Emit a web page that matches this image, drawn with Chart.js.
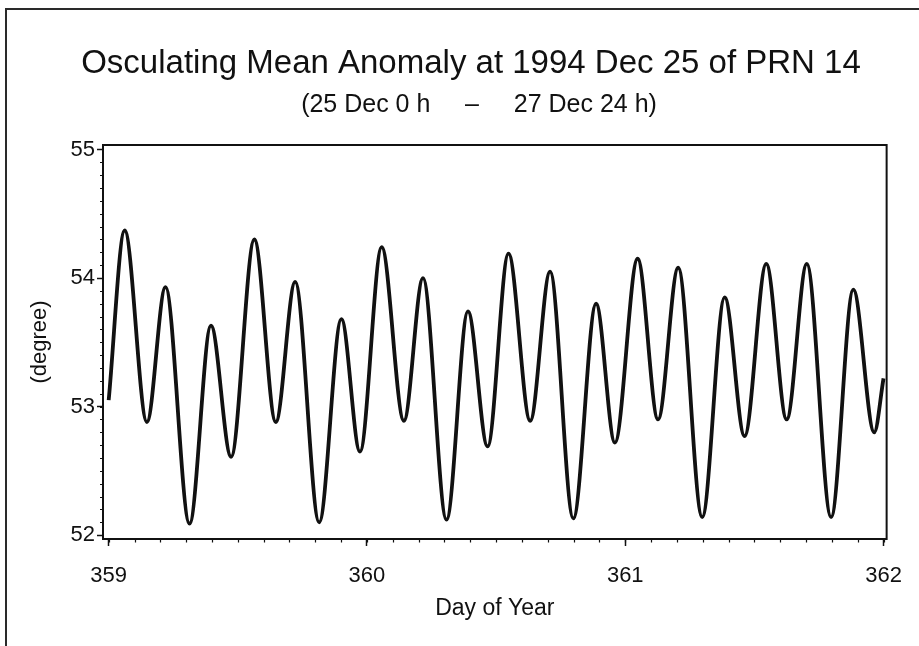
<!DOCTYPE html>
<html>
<head>
<meta charset="utf-8">
<script src="https://cdn.jsdelivr.net/npm/chart.js@4.4.1/dist/chart.umd.min.js"></script>
<style>
  html, body { margin: 0; padding: 0; background: #ffffff; }
  #wrap { width: 919px; height: 646px; position: relative; }
</style>
</head>
<body>
<div id="wrap"><canvas id="chart" width="919" height="646"></canvas></div>
<script>
// Osculating mean anomaly of PRN 14, 25 Dec 0 h to 27 Dec 24 h (day of year 359-362).
// Turning points of the curve plus its start and end samples.
const dayOfYear = [
  359.000, 359.062, 359.148, 359.220, 359.313, 359.396, 359.474, 359.564,
  359.647, 359.722, 359.815, 359.901, 359.973, 360.057, 360.143, 360.217,
  360.308, 360.391, 360.467, 360.548, 360.632, 360.709, 360.799, 360.887,
  360.960, 361.048, 361.127, 361.205, 361.298, 361.385, 361.462, 361.546,
  361.625, 361.703, 361.797, 361.883, 361.964, 362.000
];
const meanAnomaly = [
  53.05, 54.37, 52.88, 53.93, 52.09, 53.63, 52.61, 54.30,
  52.88, 53.97, 52.10, 53.68, 52.65, 54.24, 52.89, 54.00,
  52.12, 53.74, 52.69, 54.19, 52.89, 54.05, 52.13, 53.80,
  52.72, 54.15, 52.90, 54.08, 52.14, 53.85, 52.77, 54.11,
  52.90, 54.11, 52.14, 53.91, 52.80, 53.22
];
const xTicks = [359, 360, 361, 362];
const yTicks = [52, 53, 54, 55];
const minorStep = 0.1;

const FONT = "'Liberation Sans', Arial, Helvetica, sans-serif";
const INK = '#111111';
const TITLE = 'Osculating Mean Anomaly at 1994 Dec 25 of PRN 14';
const SUBTITLE = '(25 Dec 0 h     \u2013     27 Dec 24 h)';

// Short minor ticks between the labelled ones, on both axes.
const minorTicks = {
  id: 'minorTicks',
  afterDraw(chart) {
    const { ctx, chartArea, scales } = chart;
    ctx.save();
    ctx.strokeStyle = INK;
    ctx.lineWidth = 1.2;
    ctx.beginPath();
    const xs = scales.x, ys = scales.y;
    const nx = Math.round((xTicks[xTicks.length - 1] - xTicks[0]) / minorStep);
    for (let k = 0; k <= nx; k++) {
      const v = xTicks[0] + k * minorStep;
      const px = Math.round(xs.getPixelForValue(v)) + 0.5;
      ctx.moveTo(px, chartArea.bottom);
      ctx.lineTo(px, chartArea.bottom + 3.5);
    }
    const ny = Math.round((yTicks[yTicks.length - 1] - yTicks[0]) / minorStep);
    for (let k = 0; k <= ny; k++) {
      const v = yTicks[0] + k * minorStep;
      const py = Math.round(ys.getPixelForValue(v)) + 0.5;
      ctx.moveTo(chartArea.left - 3, py);
      ctx.lineTo(chartArea.left, py);
    }
    ctx.stroke();
    ctx.restore();
  }
};

// Plot frame and the page border lines.
const frames = {
  id: 'frames',
  beforeDraw(chart) {
    const { ctx, width, height } = chart;
    ctx.save();
    ctx.fillStyle = '#ffffff';
    ctx.fillRect(0, 0, width, height);
    ctx.strokeStyle = '#2a2a2a';
    ctx.lineWidth = 2;
    ctx.beginPath();
    ctx.moveTo(6, height);
    ctx.lineTo(6, 9);
    ctx.lineTo(width, 9);
    ctx.stroke();
    ctx.restore();
  },
  afterDatasetsDraw(chart) {
    const { ctx, chartArea } = chart;
    ctx.save();
    ctx.strokeStyle = INK;
    ctx.lineWidth = 2;
    ctx.strokeRect(chartArea.left, chartArea.top, chartArea.right - chartArea.left, chartArea.bottom - chartArea.top);
    ctx.restore();
  }
};

// Centre the heading lines over the whole page rather than over the plot column.
const headingCentre = {
  id: 'headingCentre',
  afterLayout(chart) {
    const heads = chart.boxes.filter(b => !b.axis && b.options && b.options.text !== undefined);
    heads.forEach(b => {
      const centre = b.options.text === TITLE ? 471 : 479;
      b.left = centre - 460;
      b.right = centre + 460;
    });
  }
};

new Chart(document.getElementById('chart'), {
  type: 'line',
  data: {
    datasets: [{
      data: dayOfYear.map((d, i) => ({ x: d, y: meanAnomaly[i] })),
      borderColor: INK,
      borderWidth: 3.8,
      pointRadius: 0,
      fill: false,
      cubicInterpolationMode: 'monotone'
    }]
  },
  options: {
    responsive: false,
    animation: false,
    devicePixelRatio: 1,
    layout: { padding: { left: 0, right: 30, top: 0, bottom: 0 } },
    plugins: {
      legend: { display: false },
      tooltip: { enabled: false },
      title: {
        display: true,
        text: TITLE,
        color: INK,
        font: { family: FONT, size: 33, weight: 'normal' },
        padding: { top: 44, bottom: 3 }
      },
      subtitle: {
        display: true,
        text: SUBTITLE,
        color: INK,
        font: { family: FONT, size: 25, weight: 'normal' },
        padding: { top: 4, bottom: 24.4 }
      }
    },
    scales: {
      x: {
        type: 'linear',
        min: 358.978,
        max: 362.012,
        afterBuildTicks: s => { s.ticks = xTicks.map(v => ({ value: v })); },
        afterFit: s => { s.height = 107; },
        ticks: {
          color: INK,
          font: { family: FONT, size: 22 },
          padding: 17,
          maxRotation: 0,
          autoSkip: false,
          callback: v => String(v)
        },
        grid: { display: true, drawOnChartArea: false, drawTicks: true, tickLength: 7, tickColor: INK, tickWidth: 1.5 },
        border: { display: false },
        title: {
          display: true,
          text: 'Day of Year',
          color: INK,
          font: { family: FONT, size: 23 },
          padding: { top: 0, bottom: 24 }
        }
      },
      y: {
        type: 'linear',
        min: 51.97,
        max: 55.035,
        afterBuildTicks: s => { s.ticks = yTicks.map(v => ({ value: v })); },
        afterFit: s => { s.width = 103; },
        ticks: {
          color: INK,
          font: { family: FONT, size: 22 },
          padding: 2,
          autoSkip: false,
          callback: v => String(v)
        },
        grid: { display: true, drawOnChartArea: false, drawTicks: true, tickLength: 6, tickColor: INK, tickWidth: 1.5 },
        border: { display: false },
        title: {
          display: true,
          text: '(degree)',
          color: INK,
          font: { family: FONT, size: 22 },
          padding: { top: 27, bottom: 0 }
        }
      }
    }
  },
  plugins: [frames, minorTicks, headingCentre]
});
</script>
</body>
</html>
